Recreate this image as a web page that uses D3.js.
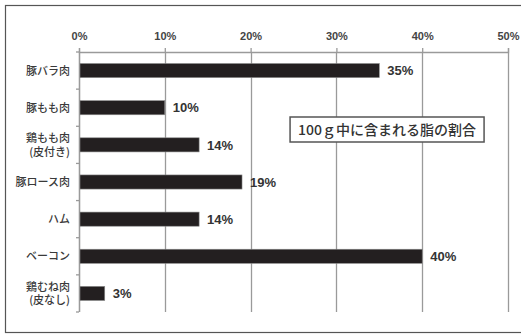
<!DOCTYPE html>
<html>
<head>
<meta charset="utf-8">
<script src="https://cdn.jsdelivr.net/npm/d3@7"></script>
<style>
  body { margin: 0; background: #fff; }
  svg { display: block; }
</style>
</head>
<body>
<svg id="chart" width="521" height="336"></svg>
<script>
const categories = [
  ["豚バラ肉"],
  ["豚もも肉"],
  ["鶏もも肉", "(皮付き)"],
  ["豚ロース肉"],
  ["ハム"],
  ["ベーコン"],
  ["鶏むね肉", "(皮なし)"]
];
const values = [35, 10, 14, 19, 14, 40, 3];
const ticks = [0, 10, 20, 30, 40, 50];
const note = "100ｇ中に含まれる脂の割合";

const svg = d3.select("#chart");
const width = +svg.attr("width");
const height = +svg.attr("height");

const margin = { top: 52, right: 13, bottom: 24, left: 79 };
const innerWidth = width - margin.left - margin.right;
const innerHeight = height - margin.top - margin.bottom;

const jp = "'Noto Sans CJK JP', 'Noto Sans', sans-serif";
const narrow = "'Liberation Sans Narrow', 'Liberation Sans', sans-serif";

// outer frame (right edge runs off the picture)
svg.append("rect")
  .attr("x", 5.5)
  .attr("y", 5.5)
  .attr("width", width + 10)
  .attr("height", 327)
  .attr("fill", "none")
  .attr("stroke", "#555")
  .attr("stroke-width", 1.2);

const g = svg.append("g")
  .attr("transform", `translate(${margin.left}, ${margin.top})`);

const data = categories.map((c, i) => ({ label: c, value: values[i], key: c.join("") }));

const x = d3.scaleLinear()
  .domain([0, 50])
  .range([0, innerWidth]);

const y = d3.scaleBand()
  .domain(data.map(d => d.key))
  .range([0, innerHeight])
  .paddingInner(0.62)
  .paddingOuter(0.31);

// vertical grid lines
g.selectAll(".grid")
  .data(ticks)
  .join("line")
  .attr("class", "grid")
  .attr("x1", d => Math.round(x(d)) + 0.5)
  .attr("x2", d => Math.round(x(d)) + 0.5)
  .attr("y1", 0)
  .attr("y2", innerHeight)
  .attr("stroke", "#9a9a9a")
  .attr("stroke-width", 1.3);

// top axis
const topAxis = g.append("g")
  .call(d3.axisTop(x).tickValues(ticks).tickFormat(d => d + "%").tickSize(4).tickPadding(8));
topAxis.select(".domain").attr("stroke", "#9a9a9a").attr("stroke-width", 1.3);
topAxis.selectAll(".tick line").attr("stroke", "#9a9a9a").attr("stroke-width", 1.3);
topAxis.selectAll("text")
  .attr("font-family", narrow)
  .attr("font-size", "11px")
  .attr("font-weight", "bold")
  .attr("fill", "#444");

// left axis: tick marks between categories
const bounds = d3.range(data.length + 1).map(i => i * innerHeight / data.length);
g.append("line")
  .attr("x1", 0.5).attr("x2", 0.5)
  .attr("y1", 0).attr("y2", innerHeight)
  .attr("stroke", "#9a9a9a")
  .attr("stroke-width", 1.3);
g.selectAll(".ytick")
  .data(bounds)
  .join("line")
  .attr("class", "ytick")
  .attr("x1", -3)
  .attr("x2", 0)
  .attr("y1", d => d)
  .attr("y2", d => d)
  .attr("stroke", "#9a9a9a")
  .attr("stroke-width", 1.3);

// bars
g.selectAll(".bar")
  .data(data)
  .join("rect")
  .attr("class", "bar")
  .attr("x", 1)
  .attr("y", d => y(d.key))
  .attr("width", d => x(d.value) - 1)
  .attr("height", y.bandwidth())
  .attr("fill", "#231f20")
  .attr("stroke", "#8a8a8a")
  .attr("stroke-width", 0.6);

// value labels
g.selectAll(".val")
  .data(data)
  .join("text")
  .attr("class", "val")
  .attr("x", d => x(d.value) + 8)
  .attr("y", d => y(d.key) + y.bandwidth() / 2)
  .attr("dy", "0.36em")
  .attr("font-family", narrow)
  .attr("font-size", "13px")
  .attr("font-weight", "bold")
  .attr("fill", "#333")
  .text(d => d.value + "%");

// category labels
const cat = g.selectAll(".cat")
  .data(data)
  .join("text")
  .attr("class", "cat")
  .attr("x", -9)
  .attr("y", d => y(d.key) + y.bandwidth() / 2)
  .attr("text-anchor", "end")
  .attr("font-family", jp)
  .attr("font-size", "11px")
  .attr("font-weight", "500")
  .attr("fill", "#3a3a3a");
cat.selectAll("tspan")
  .data(d => d.label.map((t, i) => ({ t, i, n: d.label.length })))
  .join("tspan")
  .attr("x", -9)
  .attr("dy", d => d.n === 1 ? "0.36em" : (d.i === 0 ? "-0.25em" : "1.25em"))
  .text(d => d.t);

// note box
const boxX = x(24.6), boxY = 65, boxW = 194, boxH = 25;
g.append("rect")
  .attr("x", boxX)
  .attr("y", boxY)
  .attr("width", boxW)
  .attr("height", boxH)
  .attr("fill", "#fff")
  .attr("stroke", "#555")
  .attr("stroke-width", 1.5);
g.append("text")
  .attr("x", boxX + boxW / 2)
  .attr("y", boxY + boxH / 2)
  .attr("dy", "0.36em")
  .attr("text-anchor", "middle")
  .attr("font-family", jp)
  .attr("font-size", "14px")
  .attr("font-weight", "500")
  .attr("fill", "#333")
  .text(note);
</script>
</body>
</html>
